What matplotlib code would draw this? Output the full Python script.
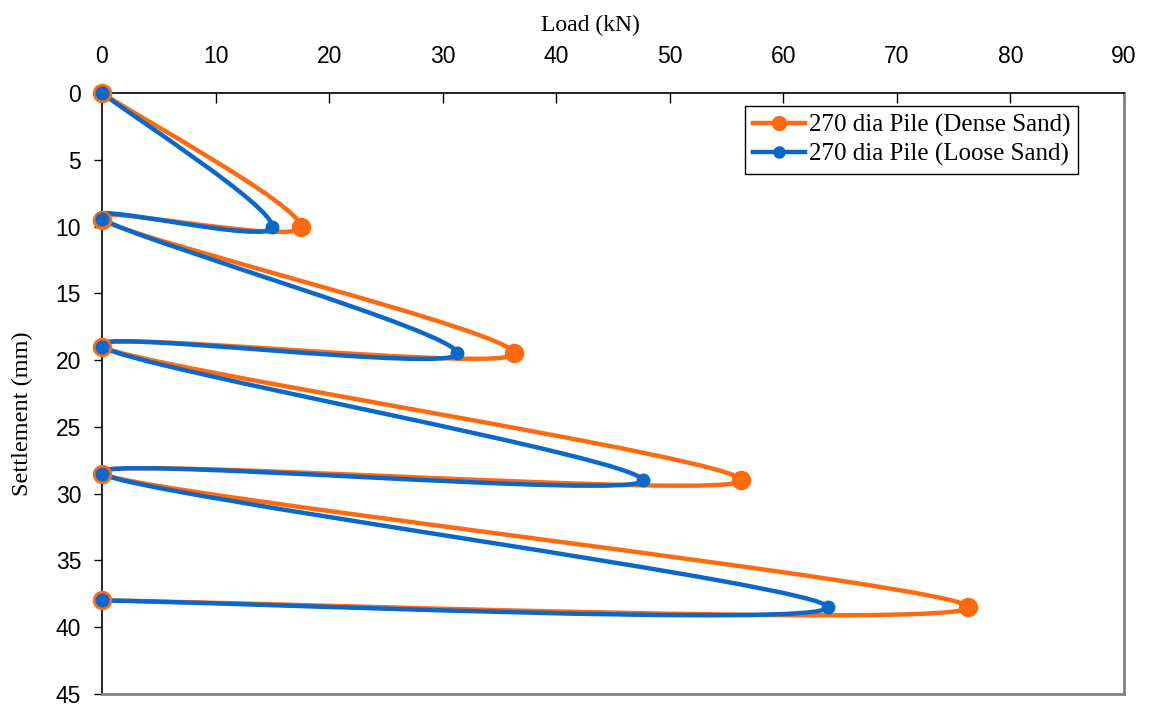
import numpy as np
import matplotlib.pyplot as plt
from matplotlib.path import Path
from matplotlib.patches import PathPatch
from matplotlib.lines import Line2D

# load (kN) and settlement (mm), loading / unloading cycles
dense_load = [0, 17.5, 0, 36.3, 0, 56.3, 0, 76.3, 0]
dense_settle = [0, 10.0, 9.5, 19.5, 19.0, 29.0, 28.5, 38.5, 38.0]
loose_load = [0, 15.0, 0, 31.3, 0, 47.6, 0, 63.9, 0]
loose_settle = [0, 10.0, 9.4, 19.5, 19.0, 29.0, 28.5, 38.5, 38.0]

labels = ["270 dia Pile (Dense Sand)", "270 dia Pile (Loose Sand)"]
orange = "#FF6A0E"
blue = "#0868CC"


def smooth_path(xs, ys):
    # excel-like smoothed line: cubic bezier through every point
    pts = np.column_stack([xs, ys]).astype(float)
    n = len(pts)
    verts = [pts[0]]
    codes = [Path.MOVETO]
    for i in range(n - 1):
        p0 = pts[i - 1] if i > 0 else pts[i]
        p1 = pts[i]
        p2 = pts[i + 1]
        p3 = pts[i + 2] if i + 2 < n else pts[i + 1]
        c1 = p1 + (p2 - p0) / 6.0
        c2 = p2 - (p3 - p1) / 6.0
        verts += [c1, c2, p2]
        codes += [Path.CURVE4] * 3
    return Path(verts, codes)


plt.rcParams['font.family'] = ['Liberation Sans', 'DejaVu Sans']
fig = plt.figure(figsize=(11.52, 7.07), dpi=100)
ax = fig.add_axes([0.0885, 0.0184, 0.8872, 0.8501])

for xs, ys, c, ms in [(dense_load, dense_settle, orange, 13),
                      (loose_load, loose_settle, blue, 9)]:
    patch = PathPatch(smooth_path(xs, ys), facecolor='none', edgecolor=c,
                      lw=3.2, clip_on=False, zorder=3)
    ax.add_patch(patch)
    ax.plot(xs, ys, 'o', color=c, ms=ms, clip_on=False, zorder=4)

ax.set_xlim(0, 90)
ax.set_ylim(45, 0)
ax.set_xticks(np.arange(0, 91, 10))
ax.set_yticks(np.arange(0, 46, 5))

ax.xaxis.tick_top()
ax.xaxis.set_label_position('top')
ax.tick_params(axis='x', direction='in', length=7, width=1, pad=18,
               labelsize=16.5, colors='black')
ax.tick_params(axis='y', direction='out', length=6, width=1, pad=9,
               labelsize=16.5)

for s in ['top', 'left']:
    ax.spines[s].set_color('black')
    ax.spines[s].set_linewidth(1.2)
for s in ['right', 'bottom']:
    ax.spines[s].set_color('#808080')
    ax.spines[s].set_linewidth(2)

ax.set_xlabel("Load (kN)", family='Liberation Serif', fontsize=17)
ax.set_ylabel("Settlement (mm)", family='Liberation Serif', fontsize=17.5)
ax.xaxis.set_label_coords(0.478, 1.103)
ax.yaxis.set_label_coords(-0.067, 0.467)

handles = [Line2D([], [], color=orange, lw=3.2, marker='o', ms=10),
           Line2D([], [], color=blue, lw=3.2, marker='o', ms=8)]
leg = ax.legend(handles, labels, loc='upper right',
                bbox_to_anchor=(0.955, 0.978), borderaxespad=0,
                fancybox=False, edgecolor='black', framealpha=1,
                handlelength=2.1, handletextpad=0.15, borderpad=0.3,
                labelspacing=0.25,
                prop={'family': 'Liberation Serif', 'size': 18})
leg.get_frame().set_linewidth(1)

fig.savefig("out.png", dpi=100)
